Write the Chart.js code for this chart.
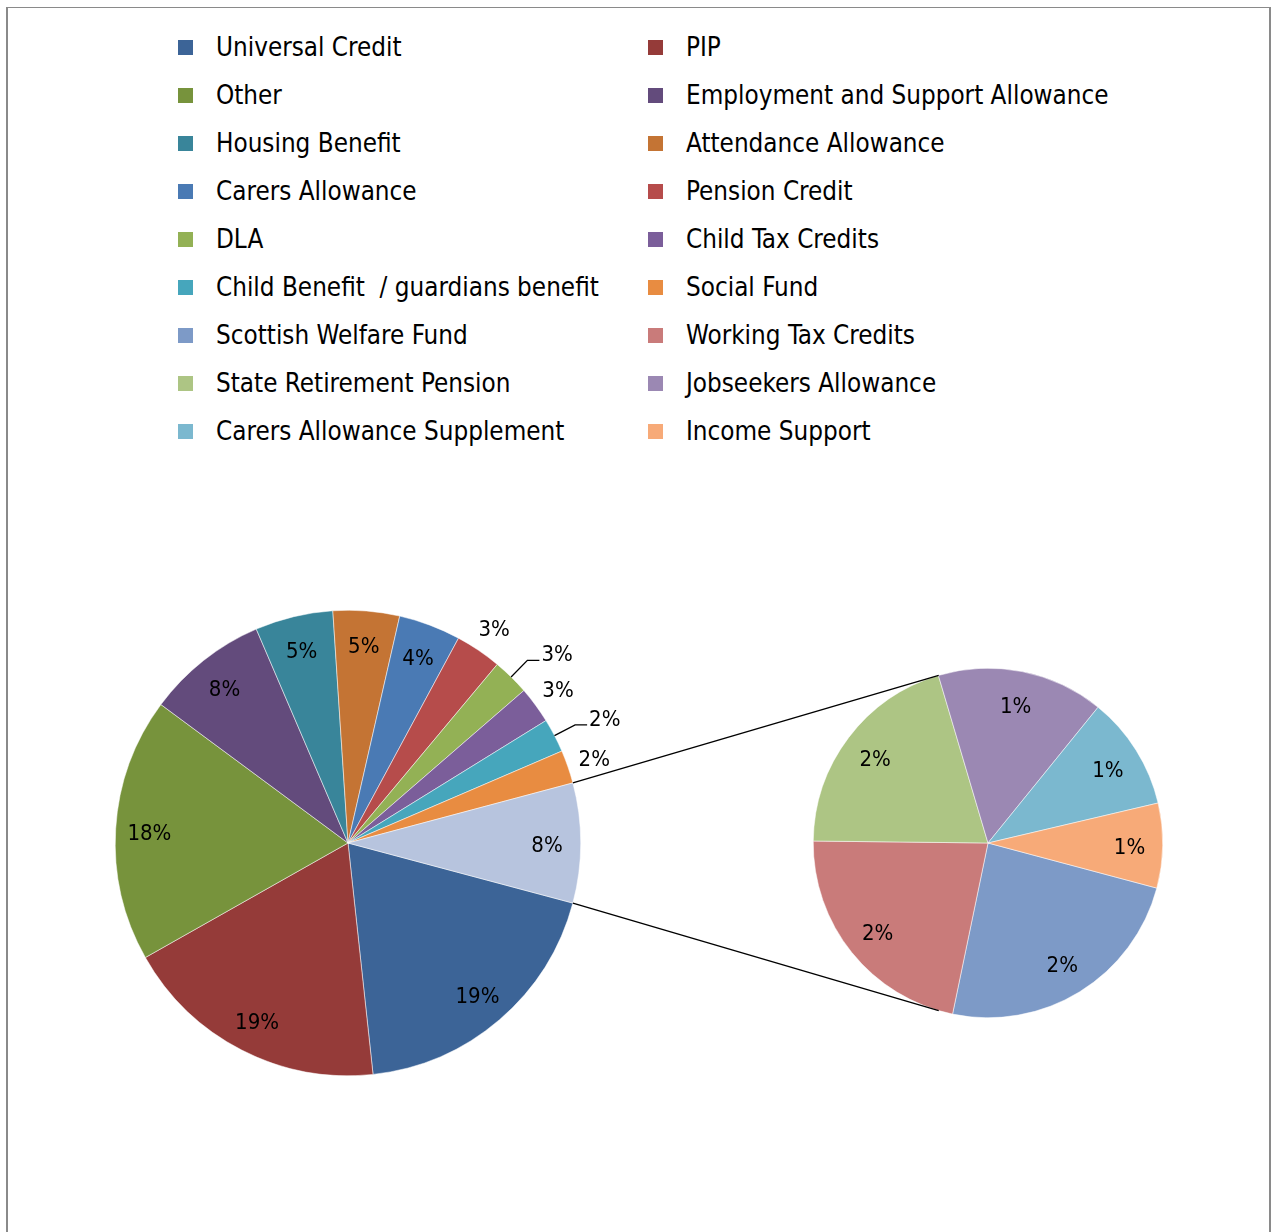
<!DOCTYPE html>
<html>
<head>
<meta charset="utf-8">
<script src="https://cdn.jsdelivr.net/npm/chart.js@4.4.1/dist/chart.umd.min.js"></script>
<style>
  html, body { margin: 0; padding: 0; background: #fff; width: 1273px; height: 1232px; overflow: hidden; }
  #frame { position: absolute; left: 6px; top: 7px; width: 1265px; height: 1240px; box-sizing: border-box;
           border-left: 2px solid #8a8a8a; border-right: 2px solid #8a8a8a; border-top: 1px solid #8a8a8a; }
  .lg { position: absolute; font-family: "DejaVu Sans Condensed", "DejaVu Sans", sans-serif; font-stretch: condensed;
        font-size: 25.8px; line-height: 30px; color: #000; white-space: pre; }
  .sw { position: absolute; width: 15px; height: 15px; }
  canvas { position: absolute; }
  #mainPie { left: 15px; top: 510px; }
  #subPie { left: 540px; top: 600px; }
</style>
</head>
<body>
<div id="frame"></div>
<div id="legend"></div>
<canvas id="mainPie" width="666" height="666"></canvas>
<canvas id="subPie" width="730" height="500"></canvas>
<script>
// Benefit types shown in the main pie
const mainLabels = [
  'Universal Credit', 'PIP', 'Other', 'Employment and Support Allowance',
  'Housing Benefit', 'Attendance Allowance', 'Carers Allowance', 'Pension Credit',
  'DLA', 'Child Tax Credits', 'Child Benefit  / guardians benefit', 'Social Fund'
];
// Share of enquiries (%) for the main pie categories
const mainValues = [19.1, 18.5, 18.3, 8.4, 5.4, 4.6, 4.3, 3.2, 2.55, 2.55, 2.35, 2.3];

// Smaller categories split out into the secondary pie
const subLabels = [
  'Scottish Welfare Fund', 'Working Tax Credits', 'State Retirement Pension',
  'Jobseekers Allowance', 'Carers Allowance Supplement', 'Income Support'
];
const subValues = [2.0, 1.82, 1.68, 1.28, 0.87, 0.65];

// Slice colours
const mainColors = ['#3c6497', '#953b39', '#77933c', '#634b7c', '#39859a', '#c47434',
                    '#4a7ab4', '#b64c4b', '#93b155', '#7b5e9a', '#46a6bc', '#e88c41'];
const subColors = ['#7d9ac7', '#c97b7a', '#adc584', '#9b88b3', '#7bb8cf', '#f7aa78'];
const groupColor = '#b7c4de';

// Labels that sit outside their slice with a leader line
const leaderLabels = ['DLA', 'Child Benefit  / guardians benefit'];

const subTotal = subValues.reduce((a, b) => a + b, 0);
const grandTotal = mainValues.reduce((a, b) => a + b, 0) + subTotal;
const pct = v => Math.round(v / grandTotal * 100) + '%';

// Both pies start at half the grouped slice's angle so it faces the secondary pie
const rotation = 90 + 180 * subTotal / grandTotal;

// ---- legend (two columns, row-major) ----
const legendEl = document.getElementById('legend');
const allLabels = mainLabels.concat(subLabels);
const allColors = mainColors.concat(subColors);
allLabels.forEach((name, k) => {
  const col = k % 2, row = Math.floor(k / 2);
  const sw = document.createElement('div');
  sw.className = 'sw';
  sw.style.left = (col ? 648 : 178) + 'px';
  sw.style.top = (40 + 48 * row) + 'px';
  sw.style.background = allColors[k];
  legendEl.appendChild(sw);
  const tx = document.createElement('div');
  tx.className = 'lg';
  tx.style.left = (col ? 686 : 216) + 'px';
  tx.style.top = (32 + 48 * row) + 'px';
  tx.textContent = name;
  legendEl.appendChild(tx);
});

const labelFont = '22px "DejaVu Sans Condensed", "DejaVu Sans", sans-serif';
const labelDrop = 3;

// Percentage labels drawn around each arc
const pieLabels = {
  id: 'pieLabels',
  afterDatasetsDraw(chart, args, opts) {
    const ctx = chart.ctx;
    const meta = chart.getDatasetMeta(0);
    const values = chart.data.datasets[0].data;
    const names = chart.data.labels;
    ctx.save();
    ctx.font = labelFont;
    try { ctx.fontStretch = 'condensed'; } catch (e) {}
    ctx.fillStyle = '#000';
    ctx.strokeStyle = '#000';
    ctx.lineWidth = 1.3;
    ctx.textBaseline = 'middle';
    meta.data.forEach((arc, i) => {
      const p = arc.getProps(['x', 'y', 'startAngle', 'endAngle', 'outerRadius'], true);
      const mid = (p.startAngle + p.endAngle) / 2;
      const share = values[i] / grandTotal * 100;
      const text = pct(values[i]);
      const cx = Math.cos(mid), cy = Math.sin(mid);
      if (share >= opts.outsideBelow) {
        ctx.textAlign = 'center';
        ctx.fillText(text, p.x + cx * p.outerRadius * opts.inside,
                     p.y + cy * p.outerRadius * opts.inside + labelDrop);
      } else if (leaderLabels.includes(names[i])) {
        const sx = p.x + cx * p.outerRadius, sy = p.y + cy * p.outerRadius;
        const ex = p.x + cx * p.outerRadius * 1.1, ey = p.y + cy * p.outerRadius * 1.1;
        ctx.beginPath();
        ctx.moveTo(sx, sy);
        ctx.lineTo(ex, ey);
        ctx.lineTo(ex + 12, ey);
        ctx.stroke();
        ctx.textAlign = 'left';
        ctx.fillText(text, ex + 14, ey - 5);
      } else {
        ctx.textAlign = 'center';
        ctx.fillText(text, p.x + cx * p.outerRadius * 1.12,
                     p.y + cy * p.outerRadius * 1.12 + labelDrop);
      }
    });
    ctx.restore();
  }
};

const mainChart = new Chart(document.getElementById('mainPie'), {
  type: 'pie',
  data: {
    labels: mainLabels.concat(['Other benefits']),
    datasets: [{
      data: mainValues.concat([subTotal]),
      backgroundColor: mainColors.concat([groupColor]),
      borderColor: '#ffffff',
      borderWidth: 0.5
    }]
  },
  options: {
    responsive: false,
    animation: false,
    rotation: rotation,
    layout: { padding: 100 },
    plugins: {
      legend: { display: false },
      tooltip: { enabled: false },
      pieLabels: { inside: 0.855, outsideBelow: 3.5 }
    }
  },
  plugins: [pieLabels]
});

// Lines from the grouped slice to the tangent points on the secondary pie
const connectors = {
  id: 'connectors',
  afterDraw(chart) {
    const g = mainChart.getDatasetMeta(0).data[mainValues.length]
      .getProps(['x', 'y', 'startAngle', 'endAngle', 'outerRadius'], true);
    const mr = mainChart.canvas.getBoundingClientRect();
    const sr = chart.canvas.getBoundingClientRect();
    const dx = mr.left - sr.left, dy = mr.top - sr.top;
    const c = chart.getDatasetMeta(0).data[0].getProps(['x', 'y', 'outerRadius'], true);
    const ctx = chart.ctx;
    ctx.save();
    ctx.strokeStyle = '#000';
    ctx.lineWidth = 1.4;
    [[g.startAngle, 1], [g.endAngle, -1]].forEach(([a, side]) => {
      const px = g.x + dx + Math.cos(a) * g.outerRadius;
      const py = g.y + dy + Math.sin(a) * g.outerRadius;
      const vx = px - c.x, vy = py - c.y;
      const d = Math.hypot(vx, vy);
      const t = Math.atan2(vy, vx) + side * Math.acos(c.outerRadius / d);
      ctx.beginPath();
      ctx.moveTo(px, py);
      ctx.lineTo(c.x + Math.cos(t) * c.outerRadius, c.y + Math.sin(t) * c.outerRadius);
      ctx.stroke();
    });
    ctx.restore();
  }
};

new Chart(document.getElementById('subPie'), {
  type: 'pie',
  data: {
    labels: subLabels,
    datasets: [{
      data: subValues,
      backgroundColor: subColors,
      borderColor: '#ffffff',
      borderWidth: 0.5
    }]
  },
  options: {
    responsive: false,
    animation: false,
    rotation: rotation,
    layout: { padding: { left: 273, right: 107, top: 68, bottom: 82 } },
    plugins: {
      legend: { display: false },
      tooltip: { enabled: false },
      pieLabels: { inside: 0.81, outsideBelow: 0 }
    }
  },
  plugins: [pieLabels, connectors]
});
</script>
</body>
</html>
